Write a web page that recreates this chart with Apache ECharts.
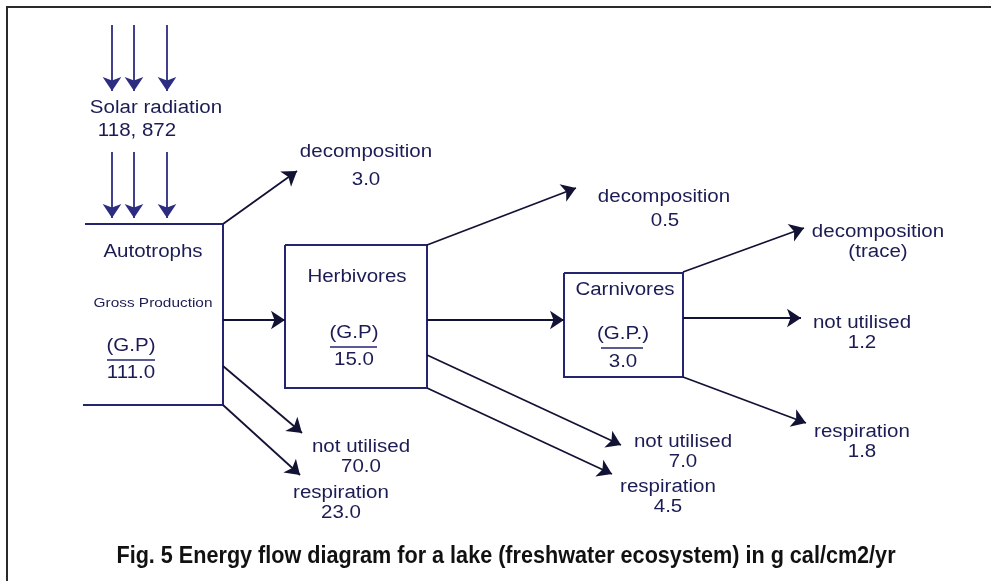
<!DOCTYPE html>
<html>
<head>
<meta charset="utf-8">
<script src="https://cdn.jsdelivr.net/npm/echarts@6/dist/echarts.min.js"></script>
<style>
  html, body { margin: 0; padding: 0; background: #fff; }
  #chart { width: 991px; height: 581px; }
</style>
</head>
<body>
<div id="chart"></div>
<script>
// values of the diagram
var levels = ['Autotrophs', 'Herbivores', 'Carnivores']
var gpTags = ['(G.P)', '(G.P)', '(G.P.)']
var grossProduction = ['111.0', '15.0', '3.0']
var decomposition = ['3.0', '0.5', '(trace)']
var notUtilised = ['70.0', '7.0', '1.2']
var respiration = ['23.0', '4.5', '1.8']
var solar = ['Solar radiation', '118, 872']
var caption = 'Fig. 5 Energy flow diagram for a lake (freshwater ecosystem) in g cal/cm2/yr'

// layout, in the pixel space of the 991 x 581 figure
var levelPos = [[153, 252], [357, 277], [625, 290]]
var gpPos = [[131, 346], [354, 333], [623, 334]]
var gpValuePos = [[131, 373], [354, 360], [623, 362]]
var gpRule = [[107, 155, 360], [330, 377, 347], [601, 643, 348]]
// each level: [decomposition, next level, not utilised, respiration] as [from, to]
var flowLayout = [
  [[[223, 224], [297, 171]], [[223, 320], [285, 320]], [[223, 366], [302, 433]], [[223, 405], [300, 475]]],
  [[[427, 245], [576, 188]], [[427, 320], [564, 320]], [[427, 355], [621, 445]], [[427, 388], [612, 474]]],
  [[[683, 272], [804, 228]], null, [[683, 318], [801, 318]], [[683, 377], [806, 423]]]
]
// label name / value positions for decomposition, not utilised, respiration
var flowText = [
  [[[366, 152], [366, 180]], [[361, 447], [361, 467]], [[341, 493], [341, 513]]],
  [[[664, 197], [665, 221]], [[683, 442], [683, 462]], [[668, 487], [668, 507]]],
  [[[878, 232], [878, 252]], [[862, 323], [862, 343]], [[862, 432], [862, 452]]]
]
var solarX = [112, 134, 167]
var solarRows = [[25, 91], [152, 218]]
var solarTextPos = [[156, 108], [137, 131]]
var autoFrame = [[[85, 224], [223, 224]], [[223, 224], [223, 405]], [[83, 405], [223, 405]]]
var boxes = [[285, 245, 427, 388], [564, 273, 683, 377]]

var textColor = '#1c1c55'
var lineColor = '#121235'
var boxColor = '#242470'
var font = 'Liberation Sans, Arial, sans-serif'

// arrows
var arrows = []
solarRows.forEach(function (r) {
  solarX.forEach(function (x) {
    arrows.push({ coords: [[x, r[0]], [x, r[1]]], lineStyle: { color: '#2c2c80' } })
  })
})
flowLayout.forEach(function (lv) {
  lv.forEach(function (f) {
    if (f) arrows.push({ coords: f })
  })
})

// plain strokes: autotroph bracket, boxes, G.P rules
var strokes = []
autoFrame.forEach(function (s) { strokes.push({ coords: s }) })
boxes.forEach(function (b) {
  strokes.push({ coords: [[b[0], b[1]], [b[2], b[1]], [b[2], b[3]], [b[0], b[3]], [b[0], b[1]]] })
})
gpRule.forEach(function (g) {
  strokes.push({ coords: [[g[0], g[2]], [g[1], g[2]]], lineStyle: { width: 1.6 } })
})

// texts
var texts = []
function addText (pos, text, size) {
  texts.push({ value: [pos[0], pos[1]], text: text, size: size || 18 })
}
addText(solarTextPos[0], solar[0])
addText(solarTextPos[1], solar[1])
levels.forEach(function (name, i) {
  addText(levelPos[i], name)
  addText(gpPos[i], gpTags[i])
  addText(gpValuePos[i], grossProduction[i])
  var t = flowText[i]
  addText(t[0][0], 'decomposition')
  addText(t[0][1], decomposition[i])
  addText(t[1][0], 'not utilised')
  addText(t[1][1], notUtilised[i])
  addText(t[2][0], 'respiration')
  addText(t[2][1], respiration[i])
})
addText([153, 303], 'Gross Production', 13.5)

var chart = echarts.init(document.getElementById('chart'))
var option = {
  animation: false,
  backgroundColor: '#fff',
  graphic: [{
    type: 'polyline',
    shape: { points: [[7, 581], [7, 7], [991, 7]] },
    style: { stroke: '#2a2a2a', lineWidth: 2, fill: null }
  }, {
    // caption, narrowed bold sans
    type: 'text',
    x: 506,
    y: 556,
    scaleX: 0.9,
    style: {
      text: caption,
      font: 'bold 24px Liberation Sans, Arial, sans-serif',
      fill: '#111',
      align: 'center',
      verticalAlign: 'middle'
    }
  }],
  grid: { left: 0, right: 0, top: 0, bottom: 0 },
  xAxis: { type: 'value', min: 0, max: 991, show: false },
  yAxis: { type: 'value', min: 0, max: 581, inverse: true, show: false },
  series: [
    {
      type: 'lines',
      coordinateSystem: 'cartesian2d',
      polyline: true,
      symbol: 'none',
      lineStyle: { color: boxColor, width: 2, opacity: 1 },
      data: strokes
    },
    {
      type: 'lines',
      coordinateSystem: 'cartesian2d',
      symbol: ['none', 'arrow'],
      symbolSize: 14,
      lineStyle: { color: lineColor, width: 1.8, opacity: 1 },
      data: arrows
    },
    {
      type: 'custom',
      coordinateSystem: 'cartesian2d',
      data: texts.map(function (t) { return t.value }),
      renderItem: function (params, api) {
        var p = api.coord([api.value(0), api.value(1)])
        var t = texts[params.dataIndex]
        return {
          type: 'text',
          x: p[0],
          y: p[1],
          scaleX: 1.14,
          style: {
            text: t.text,
            fontSize: t.size,
            fontFamily: font,
            fill: textColor,
            align: 'center',
            verticalAlign: 'middle'
          }
        }
      }
    }
  ]
}
chart.setOption(option)
</script>
</body>
</html>
